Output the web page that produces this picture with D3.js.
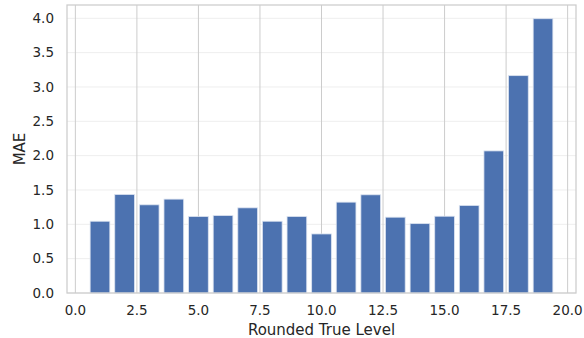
<!DOCTYPE html>
<html>
<head>
<meta charset="utf-8">
<script src="https://cdn.jsdelivr.net/npm/d3@7"></script>
<style>
  body { margin: 0; background: #fff; }
  svg text { font-family: "DejaVu Sans", sans-serif; fill: #262626; }
</style>
</head>
<body>
<div id="chart"></div>
<script>
// rounded true level and mean absolute error per level
const levels = [1, 2, 3, 4, 5, 6, 7, 8, 9, 10, 11, 12, 13, 14, 15, 16, 17, 18, 19];
const mae = [1.045, 1.435, 1.284, 1.367, 1.114, 1.128, 1.24, 1.045, 1.114, 0.86,
             1.323, 1.43, 1.104, 1.01, 1.118, 1.275, 2.069, 3.165, 3.994];
const xTicks = [0, 2.5, 5, 7.5, 10, 12.5, 15, 17.5, 20];
const yTicks = [0, 0.5, 1, 1.5, 2, 2.5, 3, 3.5, 4];

const width = 584, height = 338;
const margin = { top: 5, right: 8, bottom: 45, left: 67 };
const barWidth = 0.8;

const svg = d3.select("#chart").append("svg")
    .attr("width", width)
    .attr("height", height);

const x = d3.scaleLinear()
    .domain([0.6 - 0.94, 19.4 + 0.94])
    .range([margin.left, width - margin.right]);

const y = d3.scaleLinear()
    .domain([0, d3.max(mae) * 1.05])
    .range([height - margin.bottom, margin.top]);

// horizontal grid (light)
svg.append("g")
  .selectAll("line")
  .data(yTicks)
  .enter().append("line")
    .attr("x1", margin.left)
    .attr("x2", width - margin.right)
    .attr("y1", d => y(d))
    .attr("y2", d => y(d))
    .attr("stroke", "#eeeeee")
    .attr("stroke-width", 1);

// vertical grid
svg.append("g")
  .selectAll("line")
  .data(xTicks)
  .enter().append("line")
    .attr("x1", d => x(d))
    .attr("x2", d => x(d))
    .attr("y1", margin.top)
    .attr("y2", height - margin.bottom)
    .attr("stroke", "#cccccc")
    .attr("stroke-width", 1);

// bars
svg.append("g")
  .selectAll("rect")
  .data(levels)
  .enter().append("rect")
    .attr("x", (d) => x(d - barWidth / 2))
    .attr("width", (d) => x(d + barWidth / 2) - x(d - barWidth / 2))
    .attr("y", (d, i) => y(mae[i]))
    .attr("height", (d, i) => y(0) - y(mae[i]))
    .attr("fill", "#4c72b0")
    .attr("stroke", "#dbe3f0")
    .attr("stroke-width", 0.8);

// frame
svg.append("rect")
    .attr("x", margin.left)
    .attr("y", margin.top)
    .attr("width", width - margin.left - margin.right)
    .attr("height", height - margin.top - margin.bottom)
    .attr("fill", "none")
    .attr("stroke", "#cccccc")
    .attr("stroke-width", 1.25);

// tick labels
svg.append("g")
  .selectAll("text")
  .data(xTicks)
  .enter().append("text")
    .attr("x", d => x(d))
    .attr("y", height - margin.bottom + 22)
    .attr("text-anchor", "middle")
    .attr("font-size", 13.5)
    .text(d => d.toFixed(1));

svg.append("g")
  .selectAll("text")
  .data(yTicks)
  .enter().append("text")
    .attr("x", margin.left - 13)
    .attr("y", d => y(d))
    .attr("dy", "0.35em")
    .attr("text-anchor", "end")
    .attr("font-size", 13.5)
    .text(d => d.toFixed(1));

// axis labels
svg.append("text")
    .attr("x", (margin.left + width - margin.right) / 2)
    .attr("y", height - 3)
    .attr("text-anchor", "middle")
    .attr("font-size", 15)
    .text("Rounded True Level");

svg.append("text")
    .attr("transform", `translate(25,${(margin.top + height - margin.bottom) / 2}) rotate(-90)`)
    .attr("text-anchor", "middle")
    .attr("font-size", 15)
    .text("MAE");
</script>
</body>
</html>
